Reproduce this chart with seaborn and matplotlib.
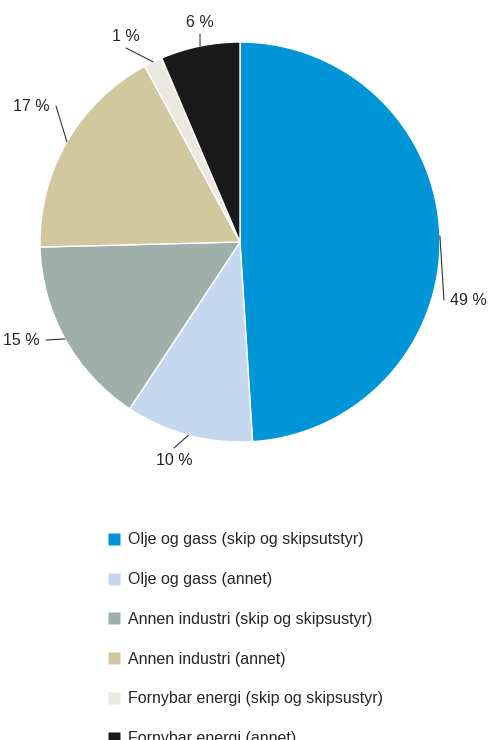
import numpy as np
import seaborn as sns
import matplotlib.pyplot as plt
from matplotlib.lines import Line2D

sns.set_style("white")
plt.rcParams['font.family'] = ['Liberation Sans', 'DejaVu Sans']

categories = ["Olje og gass (skip og skipsutstyr)", "Olje og gass (annet)",
              "Annen industri (skip og skipsustyr)", "Annen industri (annet)",
              "Fornybar energi (skip og skipsustyr)", "Fornybar energi (annet)"]
shares = [49.0, 10.3, 15.3, 17.5, 1.5, 6.4]
share_labels = ["49 %", "10 %", "15 %", "17 %", "1 %", "6 %"]
colors = sns.color_palette(["#0095d6", "#c5d8ef", "#9fb0aa", "#d1c8a0", "#ece9e0", "#1a1a1a"])
# label anchor spots (data units, pie radius 1) and alignment
label_pos = [(1.05, -0.29, "left"), (-0.33, -1.09, "center"), (-1.0, -0.49, "right"),
             (-0.95, 0.68, "right"), (-0.57, 1.03, "center"), (-0.2, 1.1, "center")]

fig = plt.figure(figsize=(5, 7.4), dpi=100)
ax = fig.add_axes([0.08, 0.4027, 0.8, 0.5405])
wedges, _ = ax.pie(shares, colors=colors, startangle=90, counterclock=False,
                   wedgeprops=dict(edgecolor="white", linewidth=1))
ax.set_aspect("equal")
ax.set_xlim(-1, 1)
ax.set_ylim(-1, 1)

# leader lines and percentage labels
for w, lab, (tx, ty, ha) in zip(wedges, share_labels, label_pos):
    ang = np.deg2rad((w.theta1 + w.theta2) / 2)
    c, s = np.cos(ang), np.sin(ang)
    ex = tx - 0.03 if ha == "left" else (tx + 0.03 if ha == "right" else tx)
    ey = ty + 0.06 * np.sign(s) * -1 if ha == "center" else ty
    ax.plot([c, ex], [s, ey], color="#333333", lw=0.8, clip_on=False)
    ax.text(tx, ty, lab, ha=ha, va="center", fontsize=11.5, clip_on=False)

handles = [Line2D([], [], marker="s", color="none", markerfacecolor=col,
                  markeredgecolor="none", markersize=8) for col in colors]
fig.legend(handles, categories, loc="upper left", bbox_to_anchor=(0.18, 0.3),
           frameon=False, fontsize=11.5, labelspacing=1.55, handletextpad=0.3,
           handlelength=1.2)

fig.savefig("out.png", dpi=100)
